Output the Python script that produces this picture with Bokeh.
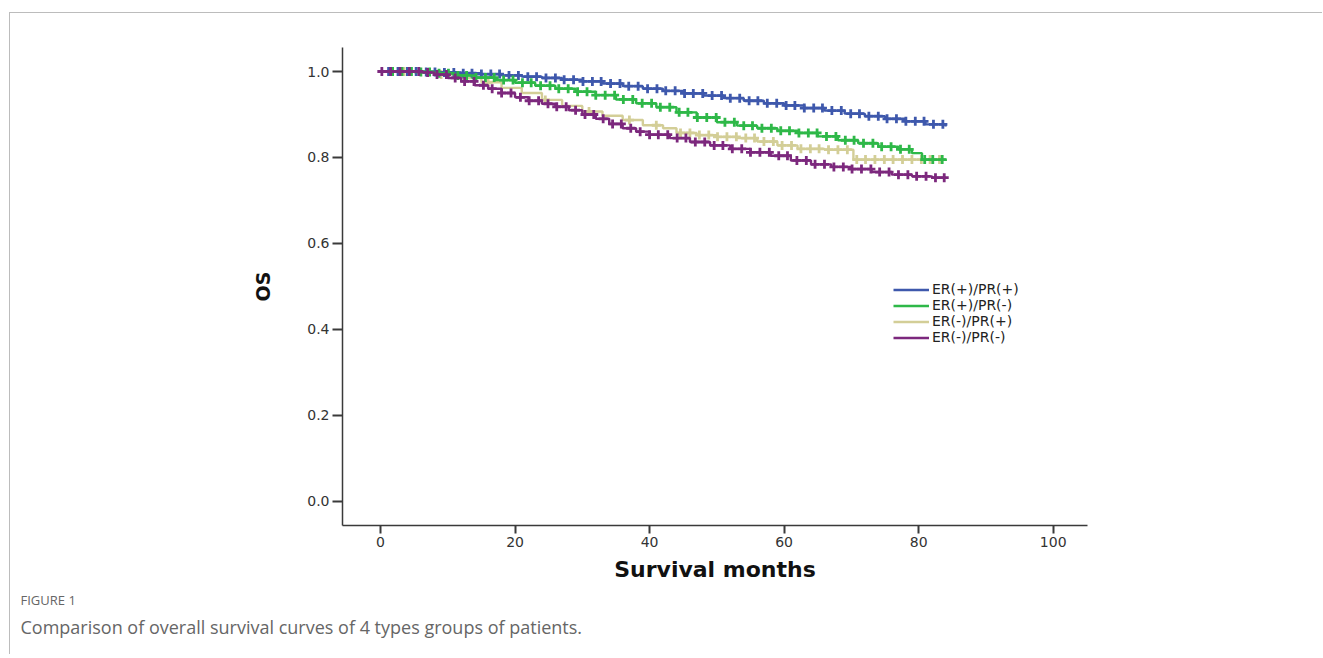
import numpy as np
from bokeh.plotting import figure
from bokeh.models import (Range1d, Legend, LegendItem, Title,
                          FixedTicker, PrintfTickFormatter)
from bokeh.embed import file_html
from bokeh.resources import INLINE

# ---------------- data ----------------
x_ticks = [0, 20, 40, 60, 80, 100]
y_ticks = [0.0, 0.2, 0.4, 0.6, 0.8, 1.0]
group_labels = ["ER(+)/PR(+)", "ER(+)/PR(-)", "ER(-)/PR(+)", "ER(-)/PR(-)"]
group_colors = ["#3E58AC", "#2EB848", "#D3CE97", "#7C287D"]
caption_head = "FIGURE 1"
caption_text = "Comparison of overall survival curves of 4 types groups of patients."

# Kaplan-Meier step points (months, survival)
t_pp = [0, 6, 9, 12, 15, 18, 21, 24, 27, 30, 33, 36, 39, 42, 45, 48, 51, 54, 57, 60, 63, 66, 69, 72, 75, 78, 81, 84]
s_pp = [1.000, 0.999, 0.998, 0.996, 0.994, 0.991, 0.988, 0.985, 0.981, 0.977, 0.972, 0.966, 0.960, 0.955,
        0.949, 0.944, 0.938, 0.932, 0.926, 0.921, 0.915, 0.909, 0.902, 0.896, 0.890, 0.884, 0.877, 0.872]

t_pm = [0, 5, 8, 11, 14, 17, 20, 23, 26, 29, 32, 35, 38, 41, 44, 47, 50, 53, 56, 59, 62, 65, 68, 71, 74, 77, 79, 80.5, 84]
s_pm = [1.000, 0.999, 0.996, 0.991, 0.986, 0.980, 0.974, 0.967, 0.960, 0.953, 0.945, 0.935, 0.926, 0.917,
        0.905, 0.893, 0.882, 0.874, 0.868, 0.862, 0.857, 0.849, 0.840, 0.833, 0.825, 0.819, 0.810, 0.795, 0.792]

t_mp = [0, 6, 9, 12, 15, 18, 21, 24, 27, 30, 33, 36, 39, 42, 44, 47, 50, 53, 56, 59, 62, 66, 70.3, 84]
s_mp = [1.000, 0.998, 0.993, 0.985, 0.975, 0.962, 0.950, 0.934, 0.920, 0.907, 0.897, 0.887, 0.875, 0.868,
        0.857, 0.852, 0.848, 0.845, 0.837, 0.828, 0.820, 0.818, 0.795, 0.795]

t_mm = [0, 6, 8, 10, 12, 14, 16, 18, 20, 22, 24, 26, 28, 30, 32, 34, 36, 38, 40, 43, 46, 49, 52, 55, 58,
        61, 64, 67, 70, 73, 76, 79, 82, 84]
s_mm = [1.000, 0.998, 0.993, 0.985, 0.977, 0.968, 0.960, 0.950, 0.940, 0.932, 0.925, 0.918, 0.910, 0.900,
        0.890, 0.878, 0.868, 0.860, 0.853, 0.845, 0.836, 0.828, 0.820, 0.812, 0.804, 0.793, 0.784, 0.778,
        0.773, 0.766, 0.760, 0.756, 0.753, 0.752]

# censoring times (months)
c_pp = [1.2, 2.6, 4.0, 5.3, 6.8, 8.1, 9.5, 10.9, 12.3, 13.6, 15.0, 16.4, 17.7, 19.1, 20.5, 21.9, 23.2,
        24.6, 26.0, 27.3, 28.7, 30.1, 31.5, 32.8, 34.2, 35.6, 36.9, 38.3, 39.7, 41.1, 42.4, 43.8, 45.2,
        46.5, 47.9, 49.3, 50.7, 52.0, 53.4, 54.8, 56.1, 57.5, 58.9, 60.3, 61.6, 63.0, 64.4, 65.7, 67.1,
        68.5, 69.9, 71.2, 72.6, 74.0, 75.3, 76.7, 78.1, 79.5, 80.8, 82.2, 83.6]
c_pm = [1.8, 3.2, 4.6, 6.0, 7.3, 8.7, 10.1, 11.5, 12.8, 14.2, 15.6, 16.9, 18.3, 19.7, 21.1, 22.4, 23.8,
        25.2, 26.5, 27.9, 29.3, 30.7, 32.0, 33.4, 34.8, 36.1, 37.5, 38.9, 40.3, 41.6, 43.0, 44.4, 45.7,
        47.1, 48.5, 49.9, 51.2, 52.6, 54.0, 55.3, 56.7, 58.1, 59.5, 60.8, 62.2, 63.6, 64.9, 66.3, 67.7,
        69.1, 70.4, 71.8, 73.2, 74.5, 75.9, 77.3, 78.6, 80.9, 82.1, 83.5]
c_mp = [3.5, 9.0, 16.0, 24.5, 31.0, 37.0, 41.0, 44.6, 46.0, 47.4, 48.8, 50.1, 51.5, 52.9, 54.3, 55.6,
        57.0, 58.4, 59.7, 61.1, 62.5, 63.9, 65.2, 66.6, 68.0, 69.4, 70.8, 72.1, 73.5, 74.9, 76.2, 77.6,
        79.0, 80.4, 81.7, 83.1]
c_mm = [0.2, 1.5, 2.9, 4.3, 5.7, 7.0, 8.4, 9.8, 11.1, 12.5, 13.9, 15.3, 16.6, 18.0, 19.4, 20.8, 22.1,
        23.5, 24.9, 26.2, 27.6, 29.0, 30.4, 31.7, 33.1, 34.5, 35.8, 37.2, 38.6, 40.0, 41.3, 42.7, 44.1,
        45.4, 46.8, 48.2, 49.6, 50.9, 52.3, 53.7, 55.0, 56.4, 57.8, 59.2, 60.5, 61.9, 63.3, 64.6, 66.0,
        67.4, 68.8, 70.1, 71.5, 72.9, 74.2, 75.6, 77.0, 78.4, 79.7, 81.1, 82.5, 83.8]

curves = [(t_pp, s_pp, c_pp), (t_pm, s_pm, c_pm), (t_mp, s_mp, c_mp), (t_mm, s_mm, c_mm)]

# ---------------- figure ----------------
OX, OY = 10, 13         # page position of the canvas (after css margin + 1px border)
W, H = 1313, 642
FL, FR, FT, FB = 342, 1087, 47, 525   # frame edges in page pixels
p = figure(width=W, height=H, output_backend="svg", toolbar_location=None,
           x_range=Range1d(-5.65, 105.1), y_range=Range1d(-0.0566, 1.0559),
           min_border_left=FL - OX, min_border_right=OX + W - FR,
           min_border_top=FT - OY, min_border_bottom=OY + H - FB)
p.styles = {"margin-top": "12px", "margin-left": "9px",
            "border-top": "1px solid #bcbcbc", "border-left": "1px solid #bcbcbc"}
p.grid.visible = False
p.outline_line_color = None
p.background_fill_color = "white"
p.border_fill_color = "white"

p.xaxis.ticker = FixedTicker(ticks=x_ticks)
p.yaxis.ticker = FixedTicker(ticks=y_ticks)
p.yaxis.formatter = PrintfTickFormatter(format="%.1f")
for ax in (p.xaxis[0], p.yaxis[0]):
    ax.axis_line_color = "#3a3a3a"
    ax.axis_line_width = 1.5
    ax.major_tick_line_color = "#3a3a3a"
    ax.major_tick_line_width = 2
    ax.major_tick_in = 0
    ax.minor_tick_line_color = None
    ax.major_label_text_font = "DejaVu Sans"
    ax.major_label_text_font_size = "14px"
    ax.major_label_text_color = "#333333"
    ax.major_label_standoff = 3
    ax.axis_label_text_font = "DejaVu Sans"
    ax.axis_label_text_font_style = "bold"
    ax.axis_label_text_color = "#111111"
p.xaxis.major_tick_out = 8
p.yaxis.major_tick_out = 10
p.xaxis.axis_label = "Survival months"
p.xaxis.axis_label_text_font_size = "22px"
p.xaxis.axis_label_standoff = 7
p.yaxis.axis_label = "OS"
p.yaxis.axis_label_text_font_size = "19px"
p.yaxis.axis_label_standoff = 30

step_renderers = [None] * 4
draw_order = [2, 0, 1, 3]
for gi in draw_order:
    t, s, c = curves[gi]
    col = group_colors[gi]
    r = p.step(t, s, mode="after", line_color=col, line_width=2.4)
    step_renderers[gi] = r
    ta = np.array(t)
    sa = np.array(s)
    idx = np.searchsorted(ta, np.array(c), side="right") - 1
    p.scatter(c, sa[idx], marker="cross", size=9, line_width=2.8, line_color=col)

legend = Legend(items=[LegendItem(label=group_labels[i], renderers=[step_renderers[i]]) for i in range(4)],
                location=(551, 180), glyph_width=36, glyph_height=15, label_height=15, spacing=0,
                padding=0, margin=0, label_standoff=3, border_line_color=None, background_fill_alpha=0,
                label_text_font="DejaVu Sans", label_text_font_size="14px", label_text_color="#222222")
p.add_layout(legend)

# caption below the chart
p.add_layout(Title(text=caption_head, align="left", offset=20 - FL, standoff=8,
                   text_font="Open Sans", text_font_size="13px", text_font_style="normal",
                   text_color="#666666"), "below")
p.add_layout(Title(text=caption_text, align="left", offset=20 - FL, standoff=0,
                   text_font="Open Sans", text_font_size="18px", text_font_style="normal",
                   text_color="#666666"), "below")

open("out.html", "w").write(file_html(p, INLINE))
